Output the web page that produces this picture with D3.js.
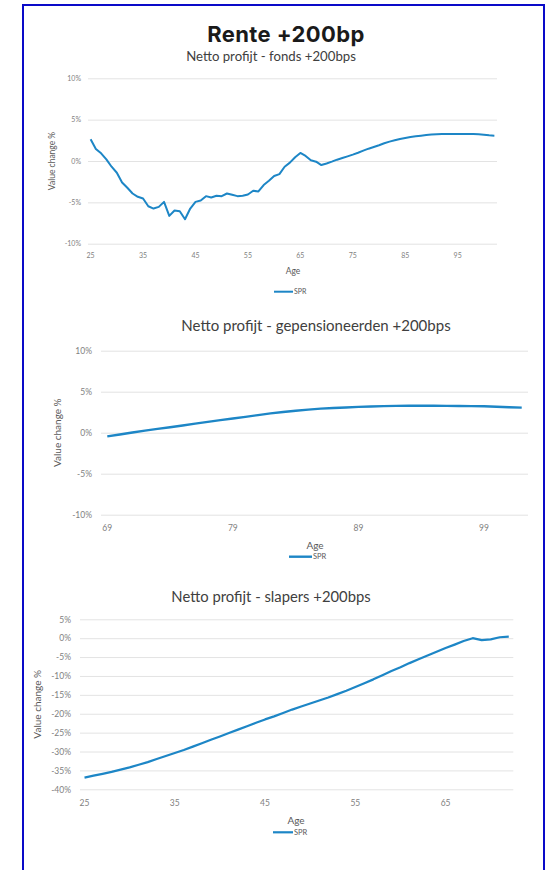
<!DOCTYPE html>
<html>
<head>
<meta charset="utf-8">
<script src="https://cdn.jsdelivr.net/npm/d3@7"></script>
<style>
  body { margin: 0; background: #fff; }
  svg { display: block; }
  .tick text { fill: #7f7f7f; font-family: Lato, "Open Sans", sans-serif; }
  .grid line { stroke: #e3e3e3; }
</style>
</head>
<body>
<svg id="page" width="546" height="870"></svg>
<script>
// chart 1: fonds
var fondsAges = d3.range(25, 103);
var fondsValues = [
  2.63, 1.46, 0.93, 0.2, -0.69, -1.42, -2.6, -3.24, -3.93, -4.33,
  -4.53, -5.47, -5.75, -5.55, -4.94, -6.64, -5.99, -6.07, -7.04, -5.75,
  -4.94, -4.78, -4.25, -4.41, -4.21, -4.25, -3.93, -4.09, -4.25, -4.21,
  -4.05, -3.6, -3.68, -2.91, -2.39, -1.82, -1.58, -0.69, -0.2, 0.45,
  0.97, 0.61, 0.08, -0.08, -0.49, -0.3, -0.08, 0.16, 0.36, 0.56,
  0.77, 1.0, 1.25, 1.49, 1.69, 1.9, 2.14, 2.34, 2.5, 2.66,
  2.78, 2.9, 2.98, 3.06, 3.14, 3.19, 3.23, 3.27, 3.27, 3.27,
  3.27, 3.27, 3.26, 3.25, 3.23, 3.18, 3.1, 3.06
];
var fondsXTicks = [25, 35, 45, 55, 65, 75, 85, 95];
var fondsYTicks = [-10, -5, 0, 5, 10];

// chart 2: gepensioneerden
var gepAges = d3.range(69, 103);
var gepValues = [
  -0.45, -0.22, 0.02, 0.25, 0.46, 0.67,
  0.88, 1.1, 1.32, 1.53, 1.73, 1.93, 2.15, 2.35, 2.52, 2.68,
  2.82, 2.93, 3.01, 3.08, 3.15, 3.2, 3.24, 3.27, 3.28, 3.28,
  3.28, 3.27, 3.26, 3.24, 3.22, 3.17, 3.1, 3.06
];
var gepXTicks = [69, 79, 89, 99];
var gepYTicks = [-10, -5, 0, 5, 10];

// chart 3: slapers
var slapAges = d3.range(25, 73);
var slapValues = [
  -36.9, -36.4, -35.9, -35.4, -34.8, -34.2, -33.5, -32.8, -32.0, -31.2,
  -30.4, -29.6, -28.7, -27.8, -26.9, -26.0, -25.1, -24.2, -23.3, -22.4,
  -21.5, -20.7, -19.8, -18.9, -18.1, -17.3, -16.5, -15.7, -14.8, -13.9,
  -12.9, -11.9, -10.9, -9.8, -8.7, -7.7, -6.6, -5.6, -4.6, -3.6,
  -2.6, -1.7, -0.75, 0.0, -0.5, -0.3, 0.25, 0.4
];
var slapXTicks = [25, 35, 45, 55, 65];
var slapYTicks = [-40, -35, -30, -25, -20, -15, -10, -5, 0, 5];

var lineColor = "#1d86c6";
var font = "Lato, 'Open Sans', sans-serif";

var svg = d3.select("#page");

// blue frame around the page
svg.append("rect")
    .attr("x", 23).attr("y", 5)
    .attr("width", 521).attr("height", 880)
    .attr("fill", "none")
    .attr("stroke", "#0a0ac8")
    .attr("stroke-width", 2);

svg.append("text")
    .attr("x", 286).attr("y", 42)
    .attr("text-anchor", "middle")
    .style("font-family", "Inter, 'Noto Sans', sans-serif")
    .style("font-weight", 700)
    .style("font-size", "22px")
    .style("letter-spacing", "0.4px")
    .style("fill", "#1a1a1a")
    .text("Rente +200bp");

function panel(o) {
  var x = d3.scaleBand().domain(o.ages).range([o.left, o.right]);
  var y = d3.scaleLinear().domain(o.yDomain).range([o.bottom, o.top]);
  var g = svg.append("g");

  g.append("text")
      .attr("x", o.titleX).attr("y", o.titleY)
      .attr("text-anchor", "middle")
      .style("font-family", font)
      .style("font-size", o.titleSize + "px")
      .style("fill", "#404040")
      .text(o.title);

  var yAxis = d3.axisLeft(y)
      .tickValues(o.yTicks)
      .tickSize(-(o.right - o.left))
      .tickPadding(o.yPad)
      .tickFormat(function(d) { return d + "%"; });

  g.append("g")
      .attr("class", "grid")
      .attr("transform", "translate(" + o.left + ",0)")
      .call(yAxis)
      .call(function(s) { s.select(".domain").remove(); })
      .selectAll("text").style("font-size", o.tickSize + "px");

  var xAxis = d3.axisBottom(x)
      .tickValues(o.xTicks)
      .tickSize(0)
      .tickPadding(o.xPad);

  g.append("g")
      .attr("transform", "translate(0," + o.bottom + ")")
      .call(xAxis)
      .call(function(s) { s.select(".domain").remove(); })
      .selectAll("text").style("font-size", o.tickSize + "px");

  var line = d3.line()
      .x(function(d, i) { return x(o.ages[i]) + x.bandwidth() / 2; })
      .y(function(d) { return y(d); });

  g.append("path")
      .datum(o.values)
      .attr("fill", "none")
      .attr("stroke", lineColor)
      .attr("stroke-width", o.lineWidth)
      .attr("stroke-linejoin", "round")
      .attr("d", line);

  g.append("text")
      .attr("x", o.ageX).attr("y", o.ageY)
      .attr("text-anchor", "middle")
      .style("font-family", font)
      .style("font-size", o.labelSize + "px")
      .style("fill", "#595959")
      .text("Age");

  g.append("text")
      .attr("transform", "translate(" + o.yTitleX + "," + (o.top + o.bottom) / 2 + ") rotate(-90)")
      .attr("text-anchor", "middle")
      .style("font-family", font)
      .style("font-size", o.labelSize + "px")
      .style("fill", "#595959")
      .text("Value change %");

  // legend
  g.append("line")
      .attr("x1", o.legX).attr("x2", o.legX + o.legW)
      .attr("y1", o.legY).attr("y2", o.legY)
      .attr("stroke", lineColor)
      .attr("stroke-width", o.lineWidth);
  g.append("text")
      .attr("x", o.legX + o.legW + 1).attr("y", o.legY)
      .attr("dy", "0.35em")
      .style("font-family", font)
      .style("font-size", o.legSize + "px")
      .style("fill", "#595959")
      .text("SPR");
}

panel({
  ages: fondsAges, values: fondsValues, xTicks: fondsXTicks, yTicks: fondsYTicks,
  yDomain: [-10, 10], left: 88, right: 497, top: 78.3, bottom: 243.7,
  title: "Netto profijt - fonds +200bps", titleX: 271, titleY: 61, titleSize: 13.2,
  tickSize: 7, yPad: 7, xPad: 9, labelSize: 8.5, ageX: 293, ageY: 274, yTitleX: 55,
  legX: 274, legW: 19, legY: 291.7, legSize: 7, lineWidth: 2
});

panel({
  ages: gepAges, values: gepValues, xTicks: gepXTicks, yTicks: gepYTicks,
  yDomain: [-10, 10], left: 101, right: 528, top: 350.7, bottom: 514.7,
  title: "Netto profijt - gepensioneerden +200bps", titleX: 316, titleY: 331, titleSize: 15,
  tickSize: 8.5, yPad: 9, xPad: 10, labelSize: 10, ageX: 315, ageY: 548.5, yTitleX: 61,
  legX: 289, legW: 23, legY: 556.7, legSize: 7.5, lineWidth: 2.4
});

panel({
  ages: slapAges, values: slapValues, xTicks: slapXTicks, yTicks: slapYTicks,
  yDomain: [-40, 5], left: 80, right: 513.3, top: 619.3, bottom: 789.3,
  title: "Netto profijt - slapers +200bps", titleX: 271, titleY: 602, titleSize: 14.8,
  tickSize: 8.5, yPad: 9, xPad: 11, labelSize: 10, ageX: 296, ageY: 823.5, yTitleX: 41,
  legX: 273, legW: 20, legY: 832.3, legSize: 7.5, lineWidth: 2.2
});
</script>
</body>
</html>
